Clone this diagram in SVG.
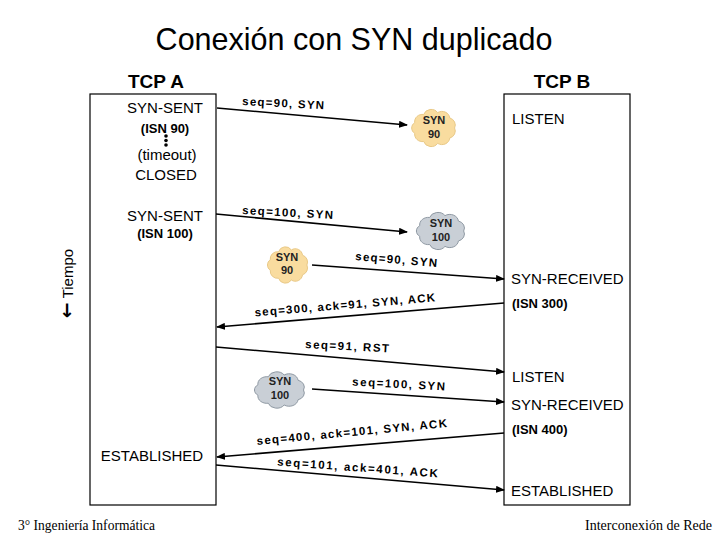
<svg xmlns="http://www.w3.org/2000/svg" xmlns:xlink="http://www.w3.org/1999/xlink" width="720" height="540" viewBox="0 0 720 540">
<style>
.box{fill:#fff;stroke:#000;stroke-width:1.2}
.st{font-family:"Liberation Sans",Arial,sans-serif;font-size:15px;fill:#000}
.stb{font-family:"Liberation Sans",Arial,sans-serif;font-size:13px;font-weight:bold;fill:#000}
.hdr{font-family:"Liberation Sans",Arial,sans-serif;font-size:19px;font-weight:bold;fill:#000;text-anchor:middle}
.lbl{font-family:"Liberation Sans",Arial,sans-serif;font-size:11.5px;font-weight:bold;fill:#000}
.ct{font-family:"Liberation Sans",Arial,sans-serif;font-size:11px;font-weight:bold;fill:#222;text-anchor:middle}
.ln{stroke:#000;stroke-width:1.6;fill:none;marker-end:url(#ah)}
.c-or{fill:#f9dc9f;stroke:#e9c987;stroke-width:1}
.c-gr{fill:#c9cfd6;stroke:#8f99a3;stroke-width:1}
.ft{font-family:"Liberation Serif","Times New Roman",serif;font-size:15px;fill:#000}
</style>
<defs>
<marker id="ah" markerWidth="9" markerHeight="7" refX="8" refY="3.5" orient="auto" markerUnits="userSpaceOnUse">
<path d="M0,0 L9,3.5 L0,7 Z" fill="#000"/>
</marker>
<path id="cloud" vector-effect="non-scaling-stroke" d="M21,0 A8,8 0 0 1 16.1,10.9 A8,8 0 0 1 3.7,16.7 A8,8 0 0 1 -10.5,14.7 A8,8 0 0 1 -19.7,5.8 A7,7 0 0 1 -19.7,-5.8 A8,8 0 0 1 -10.5,-14.7 A8,8 0 0 1 3.7,-16.7 A8,8 0 0 1 16.1,-10.9 A8,8 0 0 1 21,0 Z"/>
</defs>
<rect width="720" height="540" fill="#fff"/>

<text x="354" y="50" font-family="Liberation Sans,Arial,sans-serif" font-size="30.5" text-anchor="middle" fill="#000">Conexión con SYN duplicado</text>

<g id="tcpA">
<text class="hdr" x="156" y="88">TCP A</text>
<rect class="box" x="90" y="94" width="126" height="411"/>
<text class="st" x="165" y="113" text-anchor="middle">SYN-SENT</text>
<text class="stb" x="165" y="133" text-anchor="middle">(ISN 90)</text>
<circle cx="166" cy="136" r="1.8"/>
<circle cx="166" cy="140.5" r="1.8"/>
<circle cx="166" cy="145" r="1.8"/>
<text class="st" x="167" y="160" text-anchor="middle">(timeout)</text>
<text class="st" x="166" y="180" text-anchor="middle">CLOSED</text>
<text class="st" x="165" y="221" text-anchor="middle">SYN-SENT</text>
<text class="stb" x="165" y="238" text-anchor="middle">(ISN 100)</text>
<text class="st" x="152" y="461" text-anchor="middle" font-size="16">ESTABLISHED</text>
</g>

<g id="tcpB">
<text class="hdr" x="562" y="88">TCP B</text>
<rect class="box" x="504" y="94" width="126" height="411"/>
<text class="st" x="512" y="124">LISTEN</text>
<text class="st" x="511" y="284">SYN-RECEIVED</text>
<text class="stb" x="512" y="308">(ISN 300)</text>
<text class="st" x="512" y="382">LISTEN</text>
<text class="st" x="511" y="410">SYN-RECEIVED</text>
<text class="stb" x="512" y="434">(ISN 400)</text>
<text class="st" x="511" y="496" font-size="16">ESTABLISHED</text>
</g>

<g id="tiempo">
<text class="st" transform="translate(73,283.5) rotate(-90)" text-anchor="middle"><tspan font-family="DejaVu Sans,sans-serif" font-size="19" font-weight="bold">←</tspan> Tiempo</text>
</g>

<g id="cloud1">
<use xlink:href="#cloud" class="c-or" transform="translate(434,128) scale(0.98,0.92)"/>
<text class="ct" x="434" y="124">SYN</text>
<text class="ct" x="434" y="138">90</text>
</g>
<g id="cloud2">
<use xlink:href="#cloud" class="c-gr" transform="translate(441,231) scale(1.08,0.92)"/>
<text class="ct" x="441" y="227">SYN</text>
<text class="ct" x="441" y="241">100</text>
</g>
<g id="cloud3">
<use xlink:href="#cloud" class="c-or" transform="translate(288,265) scale(0.9,0.9)"/>
<text class="ct" x="287" y="261">SYN</text>
<text class="ct" x="287" y="274">90</text>
</g>
<g id="cloud4">
<use xlink:href="#cloud" class="c-gr" transform="translate(280,390) scale(1.12,0.9)"/>
<text class="ct" x="280" y="385">SYN</text>
<text class="ct" x="280" y="399">100</text>
</g>

<g id="connectors">
<line class="ln" x1="217" y1="108" x2="407" y2="125"/>
<line class="ln" x1="216" y1="214" x2="407" y2="232"/>
<line class="ln" x1="312" y1="265" x2="504" y2="279"/>
<line class="ln" x1="504" y1="303" x2="217" y2="327"/>
<line class="ln" x1="216" y1="347" x2="504" y2="372"/>
<line class="ln" x1="312" y1="389" x2="504" y2="402"/>
<line class="ln" x1="504" y1="433" x2="217" y2="457"/>
<line class="ln" x1="216" y1="465" x2="504" y2="490"/>

<text class="lbl" transform="translate(242,105) rotate(3)" textLength="82" lengthAdjust="spacing">seq=90, SYN</text>
<text class="lbl" transform="translate(242,214) rotate(3.2)" textLength="91" lengthAdjust="spacing">seq=100, SYN</text>
<text class="lbl" transform="translate(355,260) rotate(4.9)" textLength="82" lengthAdjust="spacing">seq=90, SYN</text>
<text class="lbl" transform="translate(255,316.5) rotate(-4.8)" textLength="181" lengthAdjust="spacing">seq=300, ack=91, SYN, ACK</text>
<text class="lbl" transform="translate(305,348) rotate(3)" textLength="84" lengthAdjust="spacing">seq=91, RST</text>
<text class="lbl" transform="translate(352,385.5) rotate(3)" textLength="93" lengthAdjust="spacing">seq=100, SYN</text>
<text class="lbl" transform="translate(257,445) rotate(-5.4)" textLength="191" lengthAdjust="spacing">seq=400, ack=101, SYN, ACK</text>
<text class="lbl" transform="translate(277,465.5) rotate(4.2)" textLength="161" lengthAdjust="spacing">seq=101, ack=401, ACK</text>
</g>

<text class="ft" x="18" y="530" textLength="137" lengthAdjust="spacingAndGlyphs">3° Ingeniería Informática</text>
<text class="ft" x="585" y="530" textLength="127" lengthAdjust="spacingAndGlyphs">Interconexión de Rede</text>
</svg>
